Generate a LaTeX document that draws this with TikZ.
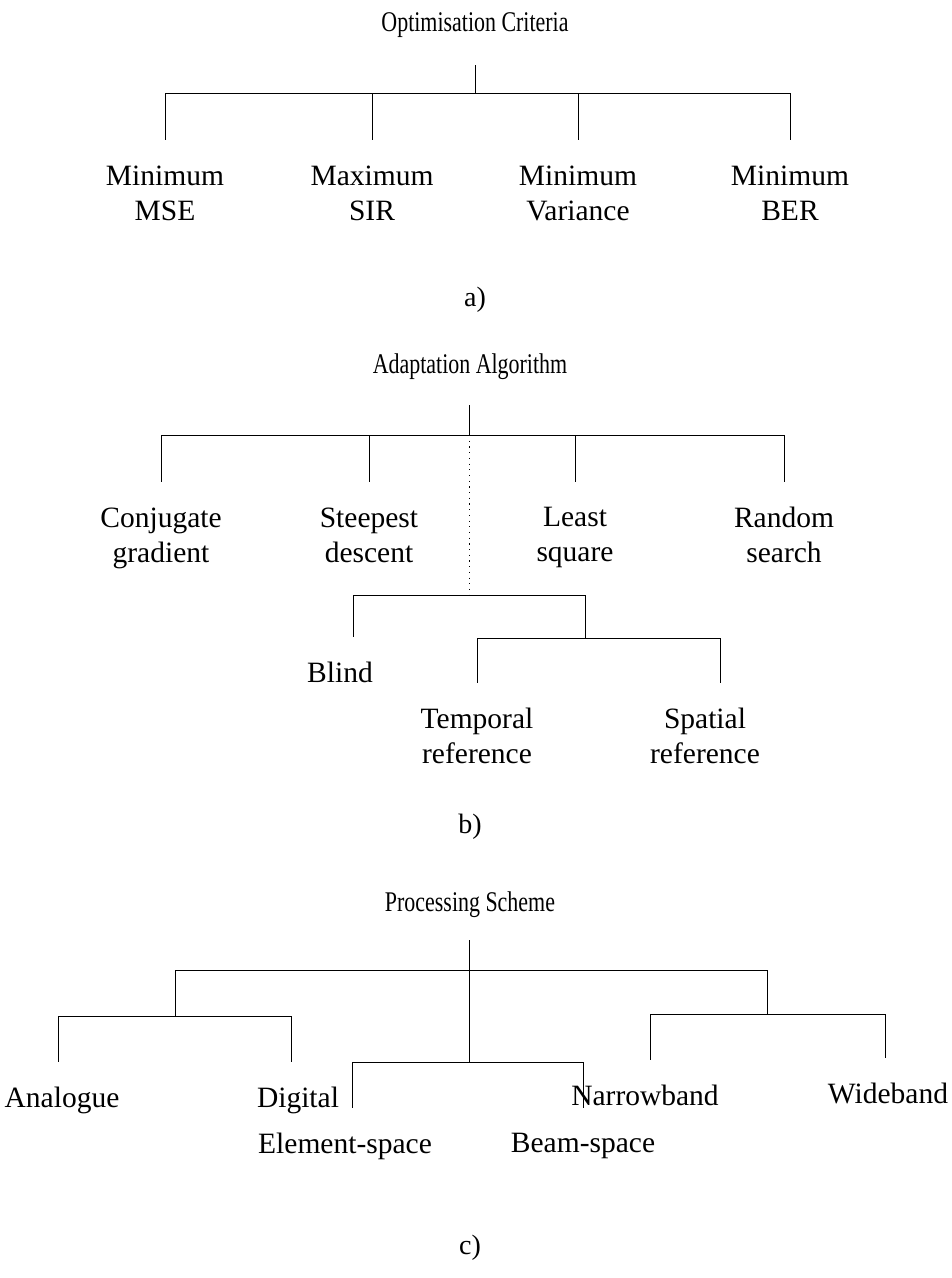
\documentclass[tikz,border=0pt]{standalone}
\usepackage{fontspec}
\setmainfont{Liberation Serif}
\newfontfamily\titlefont[FakeStretch=0.77]{Liberation Serif}
\usetikzlibrary{positioning}
\tikzset{
  every picture/.style={x=1pt, y=-1pt, line width=1pt},
  heading/.style={font=\titlefont\fontsize{28.5}{32}\selectfont},
  leaf/.style={anchor=north, inner sep=0pt, align=center, font=\fontsize{29.5}{35}\selectfont},
  caption/.style={font=\fontsize{28}{30}\selectfont},
  branch/.style={shorten >=25pt},
  faint/.style={dash pattern=on 1.2pt off 4.5pt},
}

\begin{document}
\begin{tikzpicture}
  \useasboundingbox (0,0) rectangle (952,1278);

  % a) optimisation criteria
  \node[heading] (crit) at (475,25) {Optimisation Criteria};
  \coordinate (critTop) at (475,65); \coordinate (critBar) at (475,93);
  \draw (critTop) -- (critBar);
  \foreach \x/\name/\txt in {165/mse/{Minimum\\MSE}, 372/sir/{Maximum\\SIR},
      578/var/{Minimum\\Variance}, 790/ber/{Minimum\\BER}} {
    \node[leaf] (\name) at (\x,165) {\txt};
    \draw[branch] (critBar) -| (\name.north);
  }
  \node[caption] (capA) at (475,300) {a)};

  % b) adaptation algorithm
  \node[heading] (adapt) at (470,367) {Adaptation Algorithm};
  \coordinate (adaptTop) at (469,405); \coordinate (adaptBar) at (469,435);
  \draw (adaptTop) -- (adaptBar);
  \foreach \x/\name/\txt in {161/conj/{Conjugate\\gradient}, 369/steep/{Steepest\\descent},
      575/least/{Least\\square}, 784/rand/{Random\\search}} {
    \node[leaf] (\name) at (\x,507) {\txt};
    \draw[branch] (adaptBar) -| (\name.north);
  }
  \coordinate (refSplit) at (469,595); \coordinate (refBar) at (585,638);
  \draw[faint] (adaptBar) -- (refSplit);
  \node[leaf] (blind) at (340,662) {Blind};
  \node[leaf] (temp) at (477,708) {Temporal\\reference};
  \node[leaf] (spat) at (705,708) {Spatial\\reference};
  \draw[branch] (refSplit) -| ([xshift=13pt]blind.north);
  \draw (refSplit) -| (refBar);
  \draw[branch] (refBar) -| (temp.north);
  \draw[branch] (refBar) -| ([xshift=15pt]spat.north);
  \node[caption] (capB) at (470,827) {b)};

  % c) processing scheme
  \node[heading] (proc) at (470,905) {Processing Scheme};
  \coordinate (procTop) at (469,940); \coordinate (procBar) at (469,970);
  \coordinate (sigBar) at (175,1016); \coordinate (spaceBar) at (469,1062);
  \coordinate (bandBar) at (767,1014);
  \draw (procTop) -- (spaceBar);
  \draw (procBar) -| (sigBar);
  \draw (procBar) -| (bandBar);
  \node[leaf] (analog) at (62,1087) {Analogue};
  \node[leaf] (digit) at (298,1087) {Digital};
  \node[leaf] (elem) at (345,1133) {Element-space};
  \node[leaf] (beam) at (583,1133) {Beam-space};
  \node[leaf] (narrow) at (645,1085) {Narrowband};
  \node[leaf] (wide) at (888,1083) {Wideband};
  \draw[branch] (sigBar) -| ([xshift=-4pt]analog.north);
  \draw[branch] (sigBar) -| ([xshift=-7pt]digit.north);
  \draw[branch] (spaceBar) -| ([xshift=7pt]elem.north);
  \draw[branch] (spaceBar) -| (beam.north);
  \draw[branch] (bandBar) -| ([xshift=5pt]narrow.north);
  \draw[branch] (bandBar) -| ([xshift=-3pt]wide.north);
  \node[caption] (capC) at (470,1248) {c)};
\end{tikzpicture}
\end{document}
